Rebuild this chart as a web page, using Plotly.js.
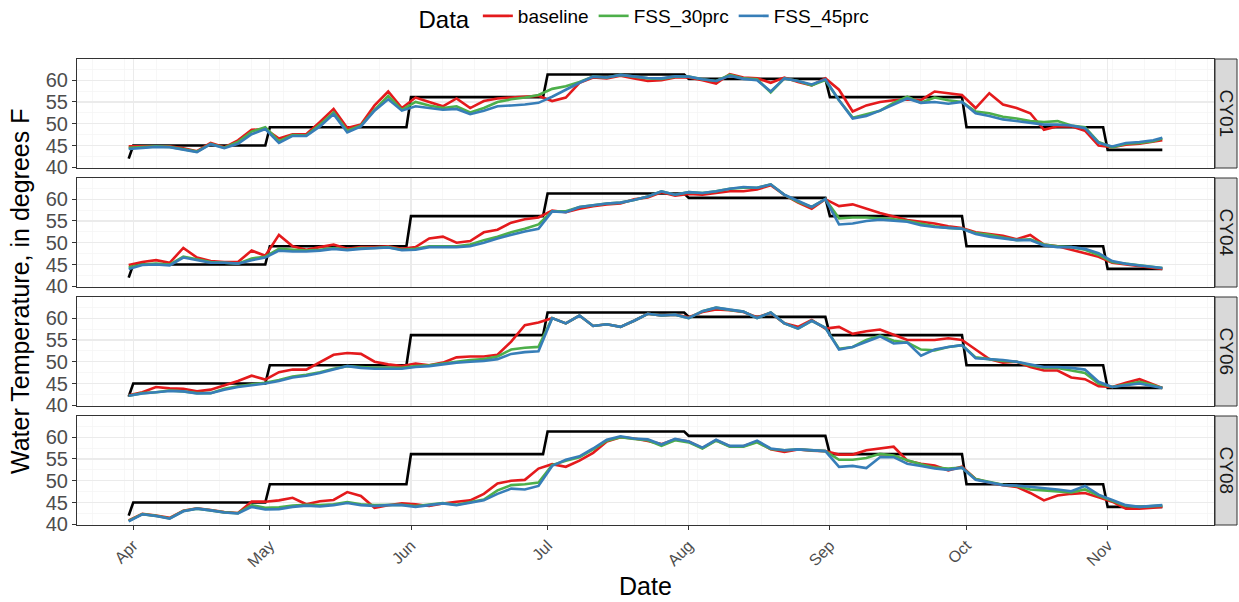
<!DOCTYPE html>
<html>
<head>
<meta charset="utf-8">
<script src="https://cdn.plot.ly/plotly-3.0.1.min.js"></script>
<style>html,body{margin:0;padding:0;background:#fff;}#chart{width:1239px;height:602px;}</style>
</head>
<body>
<div id="chart"></div>
<script>
// ---------------- DATA ----------------
const dates = ['2019-03-31','2019-04-03','2019-04-06','2019-04-09','2019-04-12','2019-04-15','2019-04-18','2019-04-21','2019-04-24','2019-04-27',
 '2019-04-30','2019-05-03','2019-05-06','2019-05-09','2019-05-12','2019-05-15','2019-05-18','2019-05-21','2019-05-24','2019-05-27',
 '2019-05-30','2019-06-02','2019-06-05','2019-06-08','2019-06-11','2019-06-14','2019-06-17','2019-06-20','2019-06-23','2019-06-26',
 '2019-06-29','2019-07-02','2019-07-05','2019-07-08','2019-07-11','2019-07-14','2019-07-17','2019-07-20','2019-07-23','2019-07-26',
 '2019-07-29','2019-08-01','2019-08-04','2019-08-07','2019-08-10','2019-08-13','2019-08-16','2019-08-19','2019-08-22','2019-08-25',
 '2019-08-28','2019-08-31','2019-09-03','2019-09-06','2019-09-09','2019-09-12','2019-09-15','2019-09-18','2019-09-21','2019-09-24',
 '2019-09-27','2019-09-30','2019-10-03','2019-10-06','2019-10-09','2019-10-12','2019-10-15','2019-10-18','2019-10-21','2019-10-24',
 '2019-10-27','2019-10-30','2019-11-02','2019-11-05','2019-11-08','2019-11-11','2019-11-13'];

const facets = ['CY01','CY04','CY06','CY08'];
const seriesNames = ['baseline','FSS_30prc','FSS_45prc'];

const cy01_baseline = [44.8,44.8,44.9,44.8,44.4,43.7,45.6,44.6,46.2,48.6, 48.8,46.6,47.6,47.6,50.4,53.4,49.0,49.8,54.2,57.4, 53.6,56.0,55.0,54.0,55.8,53.6,55.2,55.8,56.0,56.2, 56.4,55.2,56.0,59.4,60.6,60.4,61.0,60.4,59.8,60.0, 60.6,60.6,60.0,59.2,61.4,60.6,60.4,59.4,60.6,59.6, 58.8,60.4,57.8,52.8,54.2,55.0,55.4,55.6,55.4,57.4, 57.0,56.6,53.6,57.0,54.4,53.6,52.4,48.6,49.4,49.4, 48.4,45.0,44.6,45.2,45.4,45.8,46.2];
const cy01_fss30 = [44.5,44.6,44.8,44.7,44.2,43.6,45.4,44.5,45.8,48.2, 49.2,46.0,47.4,47.3,49.8,52.6,48.4,49.6,53.2,56.4, 53.2,55.0,54.2,53.6,54.0,52.6,53.6,55.0,55.6,56.0, 56.6,58.0,58.6,59.6,60.8,60.6,61.2,60.8,60.4,60.3, 60.8,60.8,60.2,59.8,61.2,60.4,60.2,57.2,60.4,59.8, 58.8,60.0,55.4,51.4,52.2,53.0,54.8,56.2,54.8,56.0, 55.4,55.0,52.8,52.4,51.6,51.2,50.6,50.4,50.6,49.6, 49.2,45.8,44.6,45.4,45.6,46.0,46.6];
const cy01_fss45 = [44.2,44.4,44.7,44.6,44.1,43.5,45.3,44.4,45.4,47.6, 48.8,45.6,47.2,47.2,49.4,52.2,48.0,49.4,53.0,55.6, 53.0,54.0,53.6,53.2,53.4,52.2,53.0,54.0,54.2,54.4, 54.8,56.2,57.8,59.4,60.8,60.6,61.2,60.8,60.5,60.4, 60.9,60.8,60.2,59.8,61.0,60.3,60.0,57.4,60.4,59.8, 59.0,60.2,55.4,51.2,51.8,53.0,54.4,55.8,54.8,55.0, 54.6,55.0,52.4,51.8,51.0,50.6,50.2,49.8,49.8,49.6, 49.0,45.6,44.8,45.6,45.8,46.2,46.8];

const cy04_baseline = [44.9,45.6,46.0,45.4,48.8,46.6,45.8,45.6,45.6,48.2, 47.0,51.8,49.2,48.4,49.0,49.6,48.6,49.0,49.0,49.2, 48.6,49.0,51.0,51.4,50.0,50.4,52.4,53.0,54.6,55.4, 55.8,57.4,57.0,57.8,58.4,58.8,59.0,60.0,60.4,61.6, 60.8,61.2,61.0,61.4,61.8,61.8,62.2,63.2,61.0,59.2, 57.8,60.0,58.4,58.8,57.8,56.8,56.0,55.2,54.8,54.4, 53.8,53.4,52.4,52.0,51.6,50.8,51.8,49.6,49.2,48.4, 47.6,46.8,45.4,45.0,44.6,44.2,44.0];
const cy04_fss30 = [44.4,45.0,45.2,45.0,46.8,46.2,45.6,45.4,45.2,46.4, 46.8,48.6,48.4,48.2,48.4,48.8,48.4,48.8,48.8,49.0, 48.4,48.6,49.2,49.2,49.2,49.6,50.6,51.4,52.4,53.2, 54.2,57.2,57.2,58.2,58.6,59.0,59.2,59.8,60.6,61.8, 61.0,61.6,61.4,61.8,62.4,62.6,62.6,63.4,61.0,59.4, 58.2,60.0,55.6,55.8,55.8,55.6,55.4,55.0,54.4,53.8, 53.4,53.2,52.2,51.8,51.2,50.6,50.8,49.6,49.2,49.0, 48.4,47.2,45.6,45.2,44.8,44.4,44.2];
const cy04_fss45 = [44.0,44.9,45.0,44.8,46.6,46.0,45.4,45.4,45.2,46.0, 46.6,48.2,48.0,48.0,48.2,48.6,48.3,48.6,48.7,48.9, 48.3,48.4,49.0,49.0,49.0,49.2,50.0,51.0,51.8,52.6, 53.2,57.2,57.0,58.2,58.6,59.0,59.2,59.8,60.6,61.8, 61.0,61.6,61.4,61.8,62.4,62.8,62.6,63.4,61.0,59.6, 58.2,60.0,54.2,54.4,55.0,55.3,55.0,54.8,54.0,53.6, 53.4,53.2,52.0,51.4,51.0,50.6,50.6,49.4,49.0,49.0, 48.6,47.6,45.8,45.2,44.8,44.4,44.2];

const cy06_baseline = [42.3,43.0,44.2,43.9,43.8,43.2,43.6,44.6,45.6,46.8, 45.9,47.6,48.2,48.2,50.0,51.6,52.0,51.8,50.0,49.4, 49.0,49.6,49.2,49.8,51.0,51.2,51.2,51.6,54.6,58.4, 59.0,60.0,58.8,60.6,58.2,58.6,58.0,59.4,61.0,60.6, 60.8,60.2,61.4,62.0,61.8,61.4,60.2,61.2,58.8,58.0, 59.6,57.6,58.0,56.4,57.0,57.4,56.2,55.0,55.0,55.0, 55.4,55.0,52.8,50.6,49.8,50.0,48.8,48.0,48.0,46.4, 46.0,44.4,44.2,45.2,46.0,44.8,44.0];
const cy06_fss30 = [42.2,42.8,43.0,43.4,43.2,42.8,42.8,43.8,44.4,44.8, 45.2,45.8,46.6,47.0,47.6,48.4,49.0,48.8,48.6,48.6, 48.6,49.0,49.2,49.6,50.0,50.4,50.6,51.2,52.8,53.2, 53.4,60.0,58.8,60.6,58.2,58.6,58.0,59.4,61.0,60.6, 60.8,60.0,61.6,62.4,61.9,61.5,60.0,61.3,58.8,57.6, 59.4,57.8,53.0,53.4,55.0,56.0,54.8,54.4,52.8,52.6, 53.4,53.8,51.0,50.6,50.2,50.0,49.2,48.6,48.6,48.0, 47.4,45.0,44.2,44.8,45.4,44.6,44.0];
const cy06_fss45 = [42.2,42.7,43.0,43.3,43.2,42.7,42.8,43.6,44.2,44.6, 45.0,45.6,46.4,46.8,47.4,48.2,49.0,48.6,48.4,48.4, 48.4,48.8,49.0,49.4,49.8,50.0,50.2,50.6,51.8,52.2, 52.4,60.0,58.8,60.6,58.2,58.6,58.0,59.4,61.0,60.6, 60.8,60.0,61.6,62.4,61.9,61.5,60.0,61.3,58.8,57.6, 59.4,57.8,52.8,53.4,54.6,55.8,54.2,54.4,51.4,52.8, 53.4,53.8,50.8,50.6,50.4,50.0,49.4,48.8,48.8,48.6, 48.2,45.4,44.2,44.6,45.0,44.4,44.0];

const cy08_baseline = [40.9,42.4,42.0,41.5,43.1,43.7,43.3,42.8,42.6,45.2, 45.2,45.5,46.1,44.6,45.3,45.6,47.4,46.5,43.8,44.4, 44.8,44.6,44.2,44.8,45.2,45.5,47.0,49.4,50.0,50.2, 52.8,53.8,53.2,54.6,56.4,59.0,60.0,59.7,59.1,58.4, 59.5,59.0,57.5,59.3,57.9,57.9,59.0,57.2,56.6,57.2, 56.9,56.8,56.0,56.0,57.0,57.4,57.8,54.6,53.9,53.5, 52.4,53.2,50.4,49.6,49.0,48.6,47.2,45.5,46.6,47.0, 47.2,46.2,45.2,43.6,43.6,43.8,44.0];
const cy08_fss30 = [40.8,42.35,41.95,41.35,43.05,43.6,43.2,42.75,42.55,44.4, 43.8,43.9,44.3,44.5,44.4,44.6,45.1,44.6,44.4,44.5, 44.5,44.2,44.5,44.9,44.5,45.1,45.7,47.8,49.0,49.2, 49.6,53.6,54.6,55.4,57.2,59.2,60.0,59.6,59.3,58.0, 59.3,58.8,57.4,59.2,57.8,57.8,58.8,57.3,57.0,57.2, 57.0,56.8,54.8,54.8,55.2,56.2,55.8,54.7,53.8,53.0, 52.8,53.0,50.4,49.8,49.1,48.8,48.0,47.8,47.6,47.3, 48.0,46.6,45.4,44.2,44.0,44.1,44.3];
const cy08_fss45 = [40.7,42.3,41.9,41.3,43.0,43.6,43.2,42.7,42.5,44.0, 43.4,43.5,44.0,44.3,44.1,44.4,44.9,44.4,44.2,44.4, 44.4,44.0,44.4,44.8,44.4,45.0,45.5,47.0,48.2,48.0, 48.8,53.4,54.8,55.6,57.4,59.4,60.2,59.7,59.5,58.3, 59.6,59.0,57.6,59.4,58.0,58.0,59.2,57.4,57.0,57.2, 57.0,56.8,53.2,53.4,52.9,55.4,55.4,53.9,53.4,52.8, 52.5,53.0,50.2,49.6,49.0,48.9,48.6,48.4,48.0,47.6, 48.8,46.8,45.6,44.4,44.0,44.2,44.4];

// Monthly temperature target (black step line), same for every facet
const targetStartDate = '2019-03-31';
const targetStartValue = 42;
const targetMonthStarts = ['2019-04-01','2019-05-01','2019-06-01','2019-07-01','2019-08-01','2019-09-01','2019-10-01','2019-11-01'];
const targetMonthEnds   = ['2019-04-30','2019-05-31','2019-06-30','2019-07-31','2019-08-31','2019-09-30','2019-10-31','2019-11-13'];
const targetValues      = [45, 49.2, 56.1, 61.3, 60.3, 56.1, 49.2, 44];

const monthTicks  = ['2019-04-01','2019-05-01','2019-06-01','2019-07-01','2019-08-01','2019-09-01','2019-10-01','2019-11-01'];
const monthLabels = ['Apr','May','Jun','Jul','Aug','Sep','Oct','Nov'];
const yTicks = [40, 45, 50, 55, 60];
const yMinorTicks = [42.5, 47.5, 52.5, 57.5, 62.5];

const panelData = [
  [cy01_baseline, cy01_fss30, cy01_fss45],
  [cy04_baseline, cy04_fss30, cy04_fss45],
  [cy06_baseline, cy06_fss30, cy06_fss45],
  [cy08_baseline, cy08_fss30, cy08_fss45]
];

// ---------------- STYLE / LAYOUT ----------------
const colors = ['#E41A1C', '#4DAF4A', '#377EB8'];
const FONT = 'Liberation Sans, Arial, Helvetica, sans-serif';
const W = 1239, H = 602;
const M = {l: 77, r: 25, t: 59, b: 77, autoexpand: false};
const plotH = H - M.t - M.b;           // 466
const plotW = W - M.l - M.r;           // 1137
const panelTops = [59, 178, 297, 416];
const panelH = 109;

// target step path
const tX = [targetStartDate], tY = [targetStartValue];
for (let i = 0; i < targetValues.length; i++) {
  tX.push(targetMonthStarts[i], targetMonthEnds[i]);
  tY.push(targetValues[i], targetValues[i]);
}

// x range with 5% expansion
const t0 = new Date(dates[0] + 'T00:00:00Z').getTime();
const t1 = new Date(dates[dates.length - 1] + 'T00:00:00Z').getTime();
const pad = (t1 - t0) * 0.05;
const fmt = ms => new Date(ms).toISOString().replace('T', ' ').slice(0, 19);
const xRange = [fmt(t0 - pad), fmt(t1 + pad)];

const traces = [];
const layout = {
  width: W, height: H,
  margin: M,
  paper_bgcolor: '#FFFFFF', plot_bgcolor: '#FFFFFF',
  font: {family: FONT, color: '#000'},
  showlegend: true,
  legend: {
    orientation: 'h', x: 0.5, xanchor: 'center', y: 1 + (M.t - 18) / plotH, yanchor: 'middle',
    title: {text: 'Data', font: {size: 24, family: FONT, color: '#000'}, side: 'left'},
    font: {size: 19, family: FONT, color: '#000'},
    itemwidth: 30, traceorder: 'normal'
  },
  shapes: [], annotations: []
};

for (let p = 0; p < 4; p++) {
  const k = p === 0 ? '' : String(p + 1);
  const xa = 'x' + k, ya = 'y' + k;
  traces.push({
    x: tX, y: tY, xaxis: xa, yaxis: ya, type: 'scatter', mode: 'lines',
    line: {color: '#000000', width: 2.6}, showlegend: false, hoverinfo: 'skip'
  });
  for (let s = 0; s < 3; s++) {
    traces.push({
      x: dates, y: panelData[p][s], xaxis: xa, yaxis: ya, type: 'scatter', mode: 'lines',
      name: seriesNames[s], legendgroup: seriesNames[s], showlegend: p === 0,
      line: {color: colors[s], width: 2.6}
    });
  }
  const top = panelTops[p];
  const dom = [(H - M.b - (top + panelH)) / plotH, (H - M.b - top) / plotH];
  const isBottom = p === 3;
  layout['xaxis' + k] = {
    type: 'date', range: xRange, domain: [0, 1], anchor: ya,
    tickmode: 'array', tickvals: monthTicks, ticktext: monthLabels,
    showticklabels: isBottom, ticks: isBottom ? 'outside' : '', ticklen: 4, tickwidth: 1, tickcolor: '#333333',
    tickangle: -45, tickfont: {size: 16, color: '#4D4D4D', family: FONT},
    showgrid: true, gridcolor: '#EBEBEB', gridwidth: 1.1,
    minor: {tick0: '2019-03-30', dtick: 7 * 86400000, showgrid: true, gridcolor: '#F4F4F4', gridwidth: 0.7, ticks: ''},
    showline: true, mirror: true, linecolor: '#333333', linewidth: 1, zeroline: false, fixedrange: true
  };
  layout['yaxis' + k] = {
    domain: dom, anchor: xa, range: [39.85, 64.85],
    tickmode: 'array', tickvals: yTicks,
    ticks: 'outside', ticklen: 4, tickwidth: 1, tickcolor: '#333333',
    tickfont: {size: 20, color: '#4D4D4D', family: FONT},
    showgrid: true, gridcolor: '#EBEBEB', gridwidth: 1.1,
    minor: {tickmode: 'array', tickvals: yMinorTicks, showgrid: true, gridcolor: '#F4F4F4', gridwidth: 0.7, ticks: ''},
    showline: true, mirror: true, linecolor: '#333333', linewidth: 1, zeroline: false, fixedrange: true
  };
  // facet strip
  layout.shapes.push({
    type: 'rect', xref: 'paper', yref: ya + ' domain',
    x0: 1 + 1 / plotW, x1: 1 + 23 / plotW, y0: 0, y1: 1,
    fillcolor: '#D9D9D9', line: {color: '#333333', width: 1}, layer: 'above'
  });
  layout.annotations.push({
    xref: 'paper', yref: ya + ' domain', x: 1 + 12 / plotW, y: 0.5,
    text: facets[p], textangle: 90, showarrow: false,
    font: {size: 19, color: '#1A1A1A', family: FONT}, xanchor: 'center', yanchor: 'middle'
  });
}

// axis titles
layout.annotations.push({
  xref: 'paper', yref: 'paper', x: (20 - M.l) / plotW, y: 0.5,
  text: 'Water Temperature, in degrees F', textangle: -90, showarrow: false,
  font: {size: 25, color: '#000', family: FONT}, xanchor: 'center', yanchor: 'middle'
});
layout.annotations.push({
  xref: 'paper', yref: 'paper', x: 0.5, y: -(586 - (H - M.b)) / plotH,
  text: 'Date', showarrow: false,
  font: {size: 25, color: '#000', family: FONT}, xanchor: 'center', yanchor: 'middle'
});

Plotly.newPlot('chart', traces, layout, {displayModeBar: false, staticPlot: true});
</script>
</body>
</html>
